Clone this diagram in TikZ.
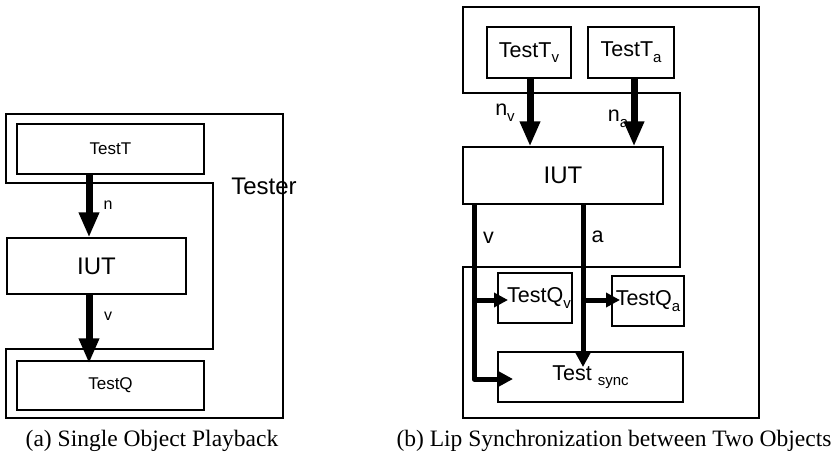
\documentclass[tikz,border=0pt]{standalone}
\usepackage{fontspec}
\setmainfont{Liberation Serif}
\newfontfamily\diagfont{Liberation Sans}
\usetikzlibrary{arrows.meta}
\newcommand\lowsub[1]{\raisebox{-0.5ex}{\fontsize{15}{15}\selectfont #1}}
\tikzset{
  box/.style={draw, line width=1.1pt, inner sep=0pt, font=\diagfont},
  region/.style={draw, line width=1.1pt},
  bigflow/.style={line width=7pt, -{Triangle[width=19pt,length=25pt]}},
  smallflow/.style={line width=5pt, line join=round, -{Triangle[width=14pt,length=14pt]}},
  sml/.style={font=\diagfont\fontsize{16}{18}\selectfont},
  mid/.style={font=\diagfont\fontsize{17}{20}\selectfont},
  big/.style={font=\diagfont\fontsize{21.5}{24}\selectfont},
  huge/.style={font=\diagfont\fontsize{24}{26}\selectfont},
  subcaption/.style={font=\fontsize{23.5}{26}\selectfont}
}
\begin{document}
\begin{tikzpicture}[x=1pt,y=-1pt]
\useasboundingbox (0,0) rectangle (840,459);

% ---------- (a) single object playback ----------
\draw[region] (6,114) -- (283,114) -- (283,418) -- (6,418) -- (6,349)
  -- (213,349) -- (213,183) -- (6,183) -- cycle;
\node[huge, anchor=center] (tester) at (264,186) {Tester};

\node[box, mid, minimum width=187pt, minimum height=50pt] (tt) at (110.5,149) {TestT};
\node[box, huge, minimum width=179pt, minimum height=56pt] (iutA) at (96.5,266) {IUT};
\node[box, mid, minimum width=187pt, minimum height=49pt] (tq) at (110.5,385.5) {TestQ};

\coordinate (xa) at (89,0);
\draw[bigflow] (xa |- tt.south) -- (xa |- iutA.north);
\draw[bigflow] (xa |- iutA.south) -- ([yshift=-3pt]xa |- tq.north);
\node[sml] (lbn) at (108,205) {n};
\node[sml] (lbv) at (108,316) {v};

\node[subcaption] (capa) at (152,441) {(a) Single Object Playback};

% ---------- (b) lip synchronization ----------
\draw[region] (463,7) -- (759,7) -- (759,418) -- (463,418) -- (463,267)
  -- (680,267) -- (680,93) -- (463,93) -- cycle;

\node[box, big, minimum width=84pt, minimum height=51pt] (ttv) at (529,52.5) {TestT\lowsub{v}};
\node[box, big, minimum width=86pt, minimum height=51pt] (tta) at (631,52.5) {TestT\lowsub{a}};
\node[box, huge, minimum width=200pt, minimum height=57pt] (iutB) at (563,175.5) {IUT};
\node[box, big, minimum width=74pt, minimum height=50pt] (tqv) at (535,298) {\hspace*{8pt}TestQ\lowsub{v}};
\node[box, big, minimum width=72pt, minimum height=50pt] (tqa) at (648,301) {TestQ\lowsub{a}};
\node[box, big, minimum width=185pt, minimum height=50pt] (ts) at (590.5,377) {Test \lowsub{sync}};

\coordinate (xv) at (530,0);
\coordinate (xa2) at (634,0);
\draw[bigflow] (xv |- ttv.south) -- (xv |- iutB.north);
\draw[bigflow] (xa2 |- tta.south) -- (xa2 |- iutB.north);
\node[big] (lnv) at (505,113) {n\lowsub{v}};
\node[big] (lna) at (618,119) {n\lowsub{a}};

% video stream to its checker and to the synchroniser
\coordinate (sv) at (474,300);
\coordinate (cv) at (474,379);
\coordinate (ev) at (513,379);
\draw[smallflow] (sv |- iutB.south) -- (cv) -- (ev);
\draw[smallflow] (sv) -- (508,300);
% audio stream
\coordinate (sa) at (583,300);
\draw[smallflow] (sa |- iutB.south) -- (583,367);
\draw[smallflow] (sa) -- (620,300);
\node[big] (lvv) at (488.5,238) {v};
\node[big] (laa) at (597.5,237) {a};

\node[subcaption] (capb) at (614,441) {(b) Lip Synchronization between Two Objects};
\end{tikzpicture}
\end{document}
